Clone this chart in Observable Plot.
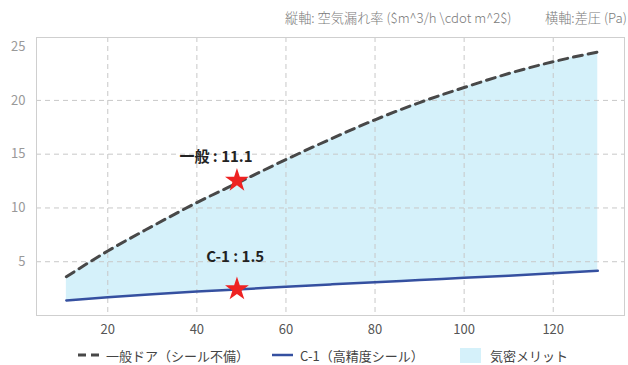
<!DOCTYPE html>
<html><head><meta charset="utf-8">
<script src="https://cdn.jsdelivr.net/npm/d3@7"></script>
<script src="https://cdn.jsdelivr.net/npm/@observablehq/plot@0.6"></script>
<style>
body{margin:0;font-family:"Noto Sans CJK JP","Noto Sans",sans-serif;background:#fff;width:628px;height:365px;overflow:hidden}
#title{height:30px;position:relative;font-size:13.2px;color:#7a7a7a;font-weight:300}
#title span{position:absolute;top:8px;white-space:nowrap}
#chart{height:315px}
#legend{position:relative;height:20px;font-size:13px;color:#444}
#legend .item{position:absolute;top:0;height:20px;display:flex;align-items:center;white-space:nowrap}
#legend svg{margin-right:7px}
</style></head><body>
<div id="title"><span style="left:285px">縦軸: 空気漏れ率 ($m^3/h \cdot m^2$)</span><span style="left:545px">横軸:差圧 (Pa)</span></div>
<div id="chart"></div>
<div id="legend">
  <div class="item" style="left:78px"><svg width="21" height="6"><line x1="0" y1="3" x2="21" y2="3" stroke="#484848" stroke-width="3" stroke-dasharray="8,5"/></svg>一般ドア（シール不備）</div>
  <div class="item" style="left:272px"><svg width="21" height="6"><line x1="0" y1="3" x2="21" y2="3" stroke="#3550a0" stroke-width="2.5"/></svg>C-1（高精度シール）</div>
  <div class="item" style="left:460px"><svg width="21" height="15" style="margin-right:9px"><rect x="0" y="0" width="21" height="15" fill="#d5f1fa"/></svg>気密メリット</div>
</div>
<script>
const pressure = [10.7, 20, 30, 40, 50, 60, 70, 80, 90, 100, 110, 120, 130];
const generalLeak = [3.6, 6.0, 8.3, 10.5, 12.5, 14.5, 16.4, 18.2, 19.8, 21.2, 22.5, 23.6, 24.5];
const c1Leak = [1.4, 1.7, 1.98, 2.23, 2.44, 2.67, 2.89, 3.1, 3.3, 3.5, 3.7, 3.92, 4.15];
const markX = [49, 49];
const markY = [12.55, 2.45];
const labelText = ["一般 : 11.1", "C-1 : 1.5"];
const labelX = [44.3, 48.6];
const labelY = [14.7, 5.4];
const xTicks = [20, 40, 60, 80, 100, 120];
const yTicks = [5, 10, 15, 20, 25];
const yGrid = [5, 10, 15, 20];

const rows = pressure.map((p, i) => ({p, g: generalLeak[i], c: c1Leak[i]}));
const marks = markX.map((x, i) => ({x, y: markY[i]}));
const labels = labelText.map((t, i) => ({t, x: labelX[i], y: labelY[i]}));

const chart = Plot.plot({
  width: 628, height: 315,
  marginTop: 7, marginBottom: 30, marginLeft: 36, marginRight: 4,
  style: {fontFamily: '"Noto Sans CJK JP","Noto Sans",sans-serif', background: "#fff"},
  x: {domain: [4, 136]},
  y: {domain: [0, 25.85]},
  marks: [
    Plot.areaY(rows, {x: "p", y1: "c", y2: "g", fill: "#d5f1fa", curve: "monotone-x"}),
    Plot.ruleY(yGrid, {stroke: "#c8c8c8", strokeDasharray: "5,4"}),
    Plot.ruleX(xTicks, {stroke: "#c8c8c8", strokeDasharray: "5,4"}),
    Plot.frame({stroke: "#cfcfcf"}),
    Plot.line(rows, {x: "p", y: "g", stroke: "#484848", strokeWidth: 3, strokeDasharray: "9,6", curve: "monotone-x"}),
    Plot.line(rows, {x: "p", y: "c", stroke: "#3550a0", strokeWidth: 2.5, curve: "monotone-x"}),
    Plot.dot(marks, {x: "x", y: "y", symbol: "star", r: 7.5, fill: "#ee2222", stroke: "none"}),
    Plot.text(labels, {x: "x", y: "y", text: "t", fontSize: 15, fontWeight: "bold", fill: "#222"}),
    Plot.axisX(xTicks, {tickSize: 0, tickPadding: 9, fontSize: 13, fill: "#555", label: null}),
    Plot.axisY(yTicks, {tickSize: 0, tickPadding: 11, fontSize: 13, fill: "#999", label: null})
  ]
});
document.getElementById("chart").append(chart);
</script>
</body></html>
